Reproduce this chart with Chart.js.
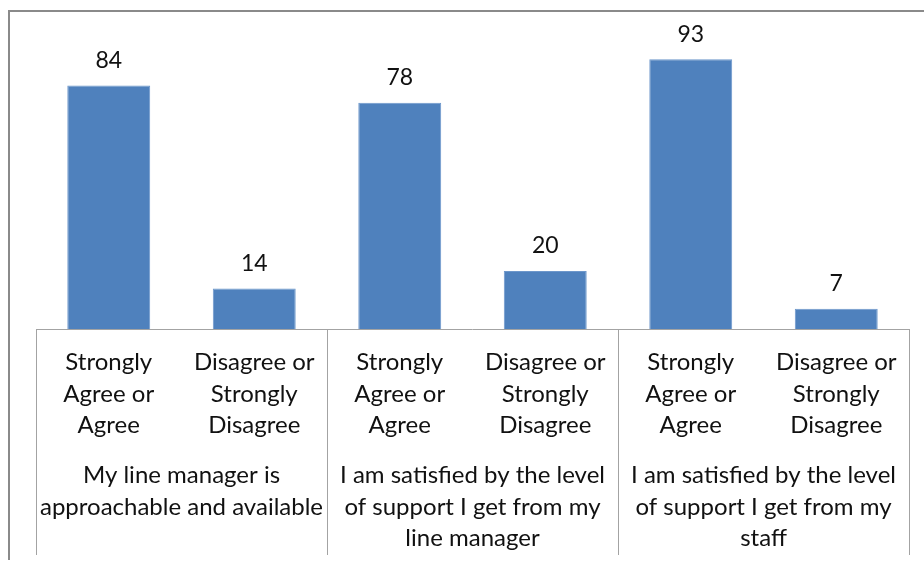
<!DOCTYPE html>
<html>
<head>
<meta charset="utf-8">
<script src="https://cdn.jsdelivr.net/npm/chart.js@4/dist/chart.umd.min.js"></script>
<style>
  html, body { margin: 0; padding: 0; background: #ffffff; }
  #wrap { position: relative; width: 924px; height: 562px; }
</style>
</head>
<body>
<div id="wrap"><canvas id="chart" width="924" height="562"></canvas></div>
<script>
// Survey statements (group labels under each pair of bars)
const statements = [
  ["My line manager is", "approachable and available"],
  ["I am satisfied by the level", "of support I get from my", "line manager"],
  ["I am satisfied by the level", "of support I get from my", "staff"]
];

// Response categories repeated for each statement
const responses = [
  ["Strongly", "Agree or", "Agree"],
  ["Disagree or", "Strongly", "Disagree"]
];

// Percentage of respondents per bar, in statement order
const percentages = [84, 14, 78, 20, 93, 7];

const categoryLabels = [];
statements.forEach(() => responses.forEach(r => categoryLabels.push(r)));

const FONT = "Lato, 'Liberation Sans', sans-serif";
const FONT_SIZE = 24;
const LINE = '#a3a3a3';

// Chart frame, value labels and group separators
const decorations = {
  id: 'decorations',
  beforeDraw(chart) {
    const ctx = chart.ctx;
    ctx.save();
    ctx.fillStyle = '#ffffff';
    ctx.fillRect(0, 0, chart.width, chart.height);
    ctx.strokeStyle = '#8a8a8a';
    ctx.lineWidth = 2;
    ctx.beginPath();
    ctx.moveTo(chart.width, 11);
    ctx.lineTo(9, 11);
    ctx.lineTo(9, 560);
    ctx.stroke();
    ctx.restore();
  },
  afterDraw(chart) {
    const ctx = chart.ctx;
    const area = chart.chartArea;
    const x = chart.scales.x;
    ctx.save();
    ctx.strokeStyle = LINE;
    ctx.lineWidth = 1;
    // baseline
    ctx.beginPath();
    ctx.moveTo(area.left, Math.round(area.bottom) + 0.5);
    ctx.lineTo(area.right, Math.round(area.bottom) + 0.5);
    ctx.stroke();
    // separators between statements
    const bounds = [area.left];
    for (let g = 1; g < statements.length; g++) {
      const i = g * responses.length;
      bounds.push((x.getPixelForValue(i - 1) + x.getPixelForValue(i)) / 2);
    }
    bounds.push(area.right);
    ctx.beginPath();
    bounds.forEach(b => {
      const px = Math.round(b) + 0.5;
      ctx.moveTo(px, area.bottom);
      ctx.lineTo(px, 555);
    });
    ctx.stroke();
    // value labels above bars
    ctx.fillStyle = '#111111';
    ctx.font = '23px ' + FONT;
    ctx.textAlign = 'center';
    ctx.textBaseline = 'middle';
    const meta = chart.getDatasetMeta(0);
    meta.data.forEach((bar, i) => {
      ctx.fillText(String(percentages[i]), bar.x, bar.y - 25);
    });
    ctx.restore();
  }
};

new Chart(document.getElementById('chart'), {
  type: 'bar',
  data: {
    labels: categoryLabels,
    datasets: [{
      data: percentages,
      backgroundColor: '#4f81bd',
      borderColor: '#6d97cb',
      borderWidth: 1,
      categoryPercentage: 1,
      barPercentage: 0.57
    }]
  },
  options: {
    responsive: false,
    animation: false,
    layout: { padding: { left: 36, right: 15, top: 39, bottom: 0 } },
    plugins: { legend: { display: false }, tooltip: { enabled: false } },
    scales: {
      y: { min: 0, max: 100, display: false },
      x: {
        position: 'bottom',
        grid: { display: false },
        border: { display: false },
        ticks: {
          autoSkip: false, maxRotation: 0, minRotation: 0,
          color: '#111111', padding: 10,
          font: { family: FONT, size: FONT_SIZE, lineHeight: '31.5px' }
        },
        afterFit(scale) { scale.height = 120; }
      },
      groups: {
        type: 'category',
        labels: statements,
        position: 'bottom',
        offset: true,
        grid: { display: false },
        border: { display: false },
        ticks: {
          autoSkip: false, maxRotation: 0, minRotation: 0,
          color: '#111111', padding: 3,
          font: { family: FONT, size: FONT_SIZE, lineHeight: '31.5px' }
        },
        afterFit(scale) { scale.height = 113; }
      }
    }
  },
  plugins: [decorations]
});
</script>
</body>
</html>
